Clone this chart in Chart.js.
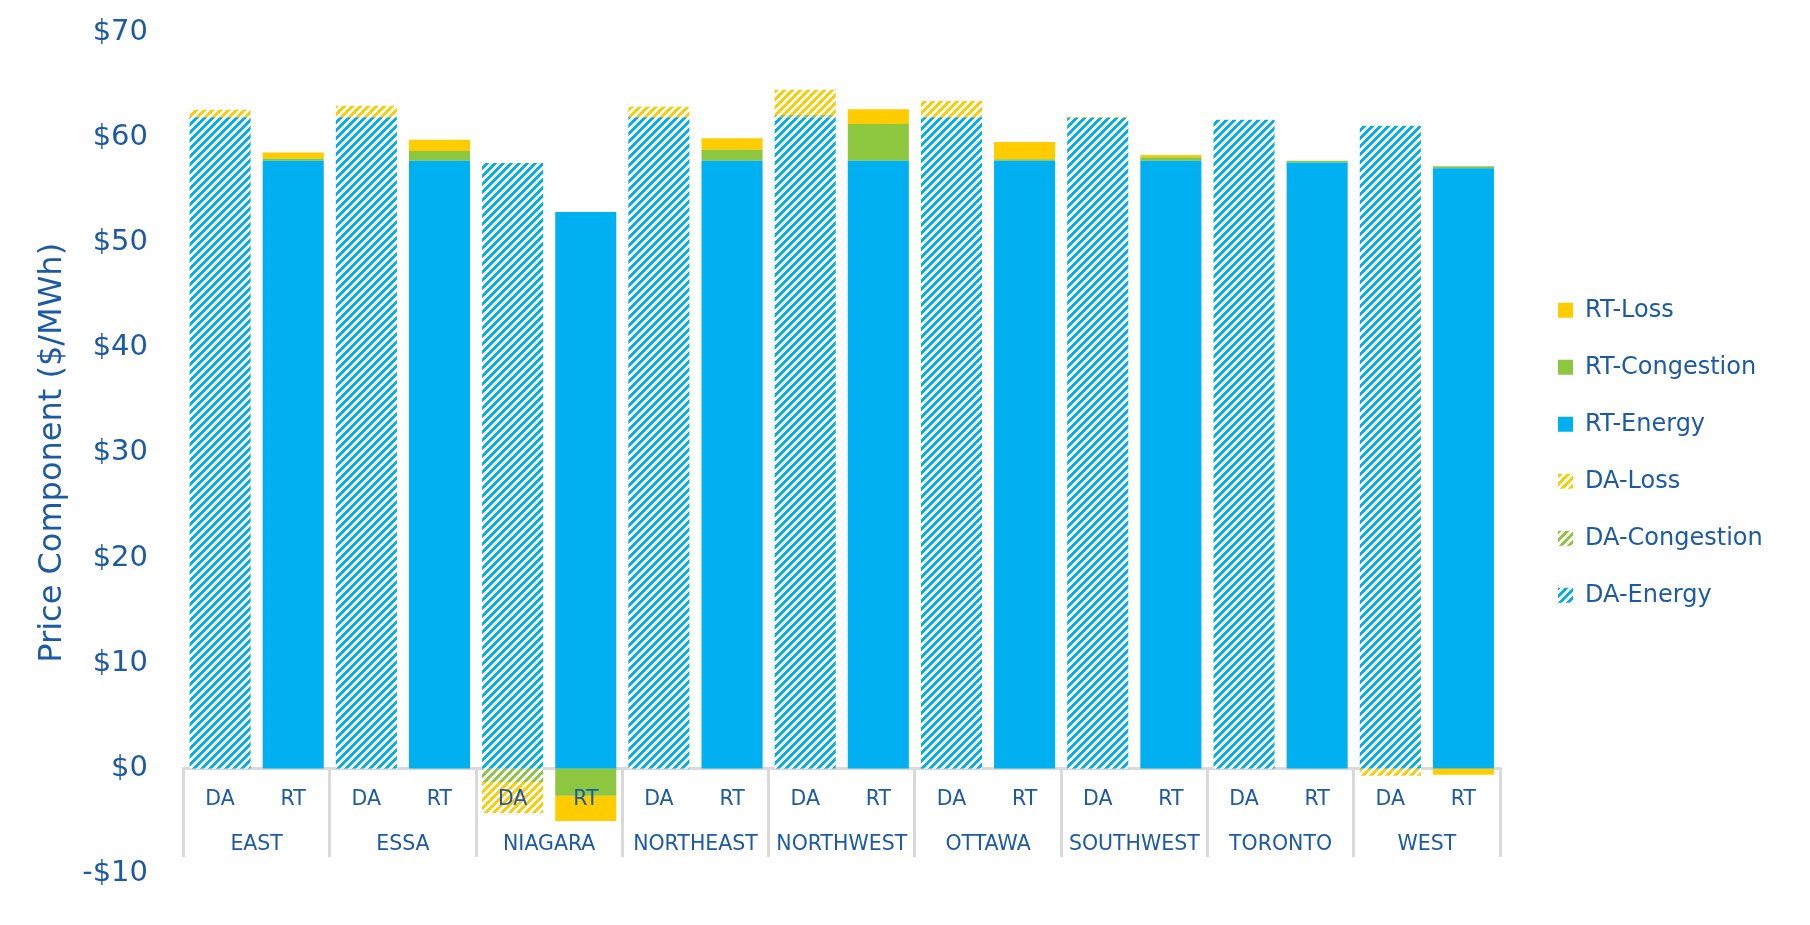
<!DOCTYPE html>
<html>
<head>
<meta charset="utf-8">
<script src="https://cdn.jsdelivr.net/npm/chart.js@4.4.1/dist/chart.umd.min.js"></script>
<style>
  html, body { margin: 0; padding: 0; background: #ffffff; }
  #wrap { width: 1810px; height: 925px; }
</style>
</head>
<body>
<div id="wrap"><canvas id="c" width="1810" height="925"></canvas></div>
<script>
// ---- data ----
const regions = ['EAST', 'ESSA', 'NIAGARA', 'NORTHEAST', 'NORTHWEST', 'OTTAWA', 'SOUTHWEST', 'TORONTO', 'WEST'];
const markets = ['DA', 'RT'];
const daEnergy     = [61.9, 61.9, 57.55, 61.9, 61.9, 61.9, 61.85, 61.65, 61.1];
const daCongestion = [0, 0, -1.3, 0, 0.2, 0, 0, 0, 0];
const daLoss       = [0.7, 1.1, -2.95, 1.0, 2.4, 1.55, 0.1, 0, -0.7];
const rtEnergy     = [57.75, 57.75, 52.9, 57.75, 57.75, 57.75, 57.75, 57.6, 57.05];
const rtCongestion = [0.2, 0.95, -2.6, 1.05, 3.5, 0.15, 0.35, 0.15, 0.2];
const rtLoss       = [0.6, 1.05, -2.4, 1.1, 1.4, 1.65, 0.2, 0, -0.6];
const yMin = -10, yMax = 70, yStep = 10;
const yTitle = 'Price Component ($/MWh)';

// ---- styles ----
const TEXT = '#1c5aa6', BLUE = '#00b0f0', GREEN = '#8dc63f', YELLOW = '#ffcc00', GRID = '#d9d9d9';
const FONT = "'DejaVu Sans', sans-serif";
const LEGEND_SIZE = 24, LEGEND_BOX = 15, LEGEND_PAD = 33;
const XFONT = 20.5;

const canvas = document.getElementById('c');
const ctx = canvas.getContext('2d');

function hatch(color) {
  const c = document.createElement('canvas');
  c.width = 8; c.height = 8;
  const g = c.getContext('2d');
  g.fillStyle = '#ffffff'; g.fillRect(0, 0, 8, 8);
  g.fillStyle = color;
  for (let y = 0; y < 8; y++) for (let x = 0; x < 8; x++) if ((x + y) % 8 < 4) g.fillRect(x, y, 1, 1);
  return ctx.createPattern(c, 'repeat');
}

const xLabels = regions.flatMap(() => markets.slice());
const daSeries = arr => regions.flatMap((r, i) => [arr[i], null]);
const rtSeries = arr => regions.flatMap((r, i) => [null, arr[i]]);

const datasets = [
  { label: 'DA-Energy',     data: daSeries(daEnergy),     backgroundColor: hatch(BLUE) },
  { label: 'DA-Congestion', data: daSeries(daCongestion), backgroundColor: hatch(GREEN) },
  { label: 'DA-Loss',       data: daSeries(daLoss),       backgroundColor: hatch(YELLOW) },
  { label: 'RT-Energy',     data: rtSeries(rtEnergy),     backgroundColor: BLUE },
  { label: 'RT-Congestion', data: rtSeries(rtCongestion), backgroundColor: GREEN },
  { label: 'RT-Loss',       data: rtSeries(rtLoss),       backgroundColor: YELLOW }
];

// legend width so that the legend starts where the reference shows it
ctx.font = LEGEND_SIZE + 'px ' + FONT;
const maxText = Math.max(...datasets.map(d => ctx.measureText(d.label).width));
const legendW = LEGEND_BOX + LEGEND_SIZE / 2 + maxText + LEGEND_PAD + 10;
const legendLeft = 1525;
const rightPad = Math.max(0, 1810 - legendLeft - legendW);

Chart.defaults.font.family = FONT;
Chart.defaults.color = TEXT;

new Chart(ctx, {
  type: 'bar',
  data: { labels: xLabels, datasets },
  options: {
    responsive: false,
    animation: false,
    devicePixelRatio: 1,
    layout: { padding: { top: 32, bottom: 51.4, left: 0, right: rightPad } },
    datasets: { bar: { categoryPercentage: 1, barPercentage: 0.835 } },
    plugins: {
      legend: {
        position: 'right',
        reverse: true,
        labels: {
          boxWidth: LEGEND_BOX, boxHeight: LEGEND_BOX, padding: LEGEND_PAD,
          color: TEXT, font: { family: FONT, size: LEGEND_SIZE }
        }
      },
      tooltip: { enabled: false }
    },
    scales: {
      x: {
        type: 'category', stacked: true, position: { y: 0 }, offset: true,
        grid: { display: false, drawTicks: false, offset: true },
        border: { display: true, color: GRID, width: 3 },
        ticks: { z: 1, color: TEXT, font: { family: FONT, size: XFONT }, padding: 19.2, autoSkip: false, maxRotation: 0 },
        afterFit(s) { s.height = 0; }
      },
      x2: {
        type: 'category', labels: regions, position: { y: 0 }, offset: true,
        grid: { display: true, offset: true, drawOnChartArea: false, drawTicks: true, tickLength: 89, color: GRID, lineWidth: 3 },
        border: { display: false },
        ticks: { color: TEXT, font: { family: FONT, size: XFONT }, padding: -24.8, autoSkip: false, maxRotation: 0 },
        afterFit(s) { s.height = 0; }
      },
      y: {
        type: 'linear', stacked: true, min: yMin, max: yMax,
        grid: { display: false, drawTicks: true, tickLength: 35 },
        border: { display: false },
        ticks: {
          stepSize: yStep, color: TEXT, font: { family: FONT, size: 29 }, padding: 0.5,
          callback: v => (v < 0 ? '-$' + Math.abs(v) : '$' + v)
        },
        title: { display: true, text: yTitle, color: TEXT, font: { family: FONT, size: 32 }, padding: { top: 33, bottom: 0 } },
        afterFit(s) { s.width = 183.5; }
      },
      yR: {
        type: 'linear', position: 'right', display: true,
        grid: { display: false, drawTicks: false },
        border: { display: false },
        ticks: { display: false },
        afterFit(s) { s.width = 25; }
      }
    }
  }
});
</script>
</body>
</html>
